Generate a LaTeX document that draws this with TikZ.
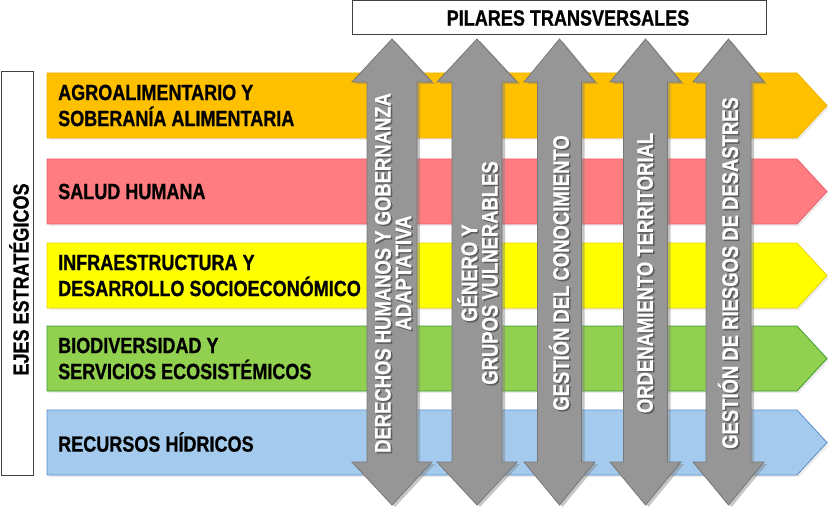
\documentclass[tikz,border=0pt]{standalone}
\usepackage{fontspec}
\setmainfont[FakeStretch=0.82, BoldFeatures={FakeBold=0.8}]{Liberation Sans}
\usetikzlibrary{shadows}
\definecolor{orF}{HTML}{FFC000}\definecolor{orD}{HTML}{F0B400}
\definecolor{piF}{HTML}{FF7C80}\definecolor{piD}{HTML}{F0606C}
\definecolor{yeF}{HTML}{FFFF00}\definecolor{yeD}{HTML}{EDD200}
\definecolor{grF}{HTML}{92D050}\definecolor{grD}{HTML}{3C9A2E}
\definecolor{blF}{HTML}{A4CBEE}\definecolor{blD}{HTML}{5B8DC8}
\definecolor{pilF}{HTML}{969696}\definecolor{pilD}{HTML}{777777}
\definecolor{boxD}{HTML}{404040}
\tikzset{
  ejearrow/.style={line width=0.8pt, drop shadow={opacity=0.15, shadow xshift=2pt, shadow yshift=-2pt}},
  pilar/.style={fill=pilF, draw=pilD, line width=0.8pt, drop shadow={opacity=0.45, shadow xshift=3pt, shadow yshift=-2pt}},
  rowtext/.style={anchor=west, align=left, font=\bfseries\fontsize{22}{26}\selectfont, text=black, inner sep=0pt},
  vtext/.style={rotate=90, align=center, font=\bfseries\fontsize{22.5}{20.5}\selectfont, text=white, inner sep=0pt},
  vshadow/.style={vtext, text=black!80, opacity=0.55},
  titlebox/.style={draw=boxD, fill=white, line width=1pt},
  titletext/.style={font=\bfseries\fontsize{22}{24}\selectfont, text=black, inner sep=0pt},
}
\newcommand\pilararrow[3]{%
  \path[pilar] (#1,39) -- (#1+#3,82) -- (#1+#2,82) -- (#1+#2,462) -- (#1+#3,462) -- (#1,505)
    -- (#1-#3,462) -- (#1-#2,462) -- (#1-#2,82) -- (#1-#3,82) -- cycle;}
\newcommand\ejeshape[4]{%
  \path[ejearrow, draw=#4, fill=#3] (47,#1) -- (797,#1) -- (827,{(#1+#2)/2}) -- (797,#2) -- (47,#2) -- cycle;}
\begin{document}
\begin{tikzpicture}[x=1pt,y=-1pt]
\useasboundingbox (0,0) rectangle (828,524);
% horizontal axes
\ejeshape{73}{138}{orF}{orD}
\ejeshape{159}{224}{piF}{piD}
\ejeshape{243}{308}{yeF}{yeD}
\ejeshape{326}{391}{grF}{grD}
\ejeshape{410}{475}{blF}{blD}
\node[rowtext] (e1) at (58,105.5) {AGROALIMENTARIO Y\\SOBERANÍA ALIMENTARIA};
\node[rowtext] (e2) at (58,191.5) {SALUD HUMANA};
\node[rowtext] (e3) at (58,275.5) {INFRAESTRUCTURA Y\\DESARROLLO SOCIOECONÓMICO};
\node[rowtext] (e4) at (58,358.5) {BIODIVERSIDAD Y\\SERVICIOS ECOSISTÉMICOS};
\node[rowtext] (e5) at (58,442) {RECURSOS HÍDRICOS};
% vertical pillars
\pilararrow{392}{25}{40}
\pilararrow{477}{25}{40}
\pilararrow{559.5}{22}{35.5}
\pilararrow{645.5}{22}{35.5}
\pilararrow{728.5}{22.5}{35.5}
\node[vshadow] at (394.5,274.5) {DERECHOS HUMANOS Y GOBERNANZA\\ADAPTATIVA};
\node[vtext] (p1) at (393,273) {DERECHOS HUMANOS Y GOBERNANZA\\ADAPTATIVA};
\node[vshadow] at (479,274.5) {GÉNERO Y\\GRUPOS VULNERABLES};
\node[vtext] (p2) at (477.5,273) {GÉNERO Y\\GRUPOS VULNERABLES};
\node[vshadow] at (560.5,274.5) {GESTIÓN DEL CONOCIMIENTO};
\node[vtext] (p3) at (559,273) {GESTIÓN DEL CONOCIMIENTO};
\node[vshadow] at (646.5,274.5) {ORDENAMIENTO TERRITORIAL};
\node[vtext] (p4) at (645,273) {ORDENAMIENTO TERRITORIAL};
\node[vshadow] at (729.5,274.5) {GESTIÓN DE RIESGOS DE DESASTRES};
\node[vtext] (p5) at (728,273) {GESTIÓN DE RIESGOS DE DESASTRES};
% title boxes
\path[titlebox] (352,1) rectangle (766,35);
\node[titletext] (pt) at (568,18) {PILARES TRANSVERSALES};
\path[titlebox] (1,72) rectangle (33,475);
\node[titletext, rotate=90] (ee) at (19,279.5) {EJES ESTRATÉGICOS};
\end{tikzpicture}
\end{document}
